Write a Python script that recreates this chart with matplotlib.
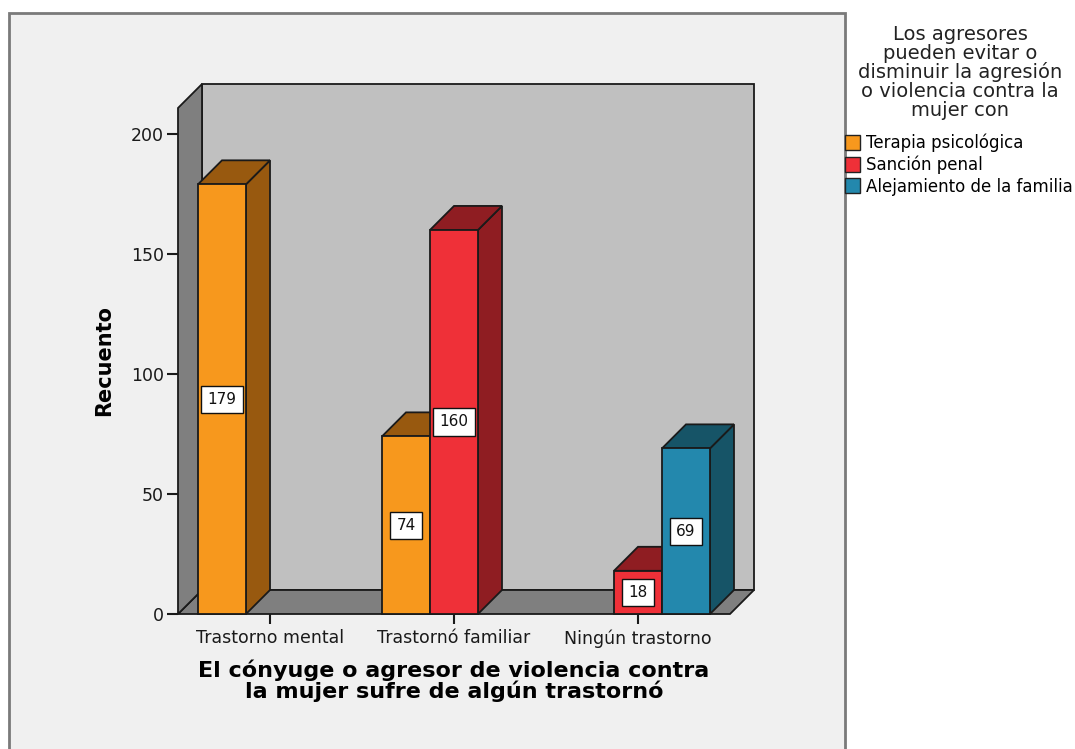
import matplotlib

matplotlib.use("Agg")

import matplotlib.pyplot as plt
from matplotlib.patches import Polygon, Rectangle

categories = ["Trastorno mental", "Trastornó familiar", "Ningún trastorno"]
series_names = ["Terapia psicológica", "Sanción penal", "Alejamiento de la familia"]
terapia = [179, 74, 0]
sancion = [0, 160, 18]
alejamiento = [0, 0, 69]
y_ticks = [0, 50, 100, 150, 200]

front_colors = ["#f7981d", "#ef3038", "#2388ad"]
shade_colors = ["#98590f", "#8f1d22", "#165467"]
legend_title = "Los agresores\npueden evitar o\ndisminuir la agresión\no violencia contra la\nmujer con"
x_title = "El cónyuge o agresor de violencia contra\nla mujer sufre de algún trastornó"

plt.rcParams["font.family"] = ["DejaVu Sans"]

W, H = 1075, 749
fig = plt.figure(figsize=(W / 100, H / 100), dpi=100, facecolor="white")
fig.add_artist(Rectangle((9 / W, -0.05), (845 - 9) / W, 1.05 - 13 / H,
                         transform=fig.transFigure, facecolor="#f0f0f0",
                         edgecolor="#7a7a7a", linewidth=2, zorder=-1))

ax = fig.add_axes([178 / W, 1 - 614 / H, (730 - 178) / W, (614 - 108) / H])
ax.set_xlim(-0.5, 2.5)
ax.set_ylim(0, 210.8)
ax.patch.set_visible(False)
for s in ax.spines.values():
    s.set_visible(False)

# 3d depth: 24 px right and up, expressed in data units
depth_px = 24
(x0p, y0p), (x1p, y1p) = ax.transData.transform([(0, 0), (1, 1)])
ddx = depth_px / (x1p - x0p)
ddy = depth_px / (y1p - y0p)

edge = dict(edgecolor="#1a1a1a", linewidth=1.3, clip_on=False)
xl, xr = ax.get_xlim()
yt = ax.get_ylim()[1]
ax.add_patch(Polygon([(xl + ddx, ddy), (xr + ddx, ddy), (xr + ddx, yt + ddy), (xl + ddx, yt + ddy)],
                     facecolor="#c0c0c0", zorder=1, **edge))
ax.add_patch(Polygon([(xl, 0), (xr, 0), (xr + ddx, ddy), (xl + ddx, ddy)],
                     facecolor="#7f7f7f", zorder=1, **edge))
ax.add_patch(Polygon([(xl, 0), (xl + ddx, ddy), (xl + ddx, yt + ddy), (xl, yt)],
                     facecolor="#7f7f7f", zorder=1, **edge))

series = [terapia, sancion, alejamiento]
w = 48 / 184
z = 2
for i in range(len(categories)):
    for j, vals in enumerate(series):
        v = vals[i]
        if v <= 0:
            continue
        x0 = i + (j - 1) * w - w / 2
        x1 = x0 + w
        ax.add_patch(Polygon([(x1, 0), (x1 + ddx, ddy), (x1 + ddx, v + ddy), (x1, v)],
                             facecolor=shade_colors[j], zorder=z, **edge))
        ax.add_patch(Polygon([(x0, v), (x1, v), (x1 + ddx, v + ddy), (x0 + ddx, v + ddy)],
                             facecolor=shade_colors[j], zorder=z, **edge))
        ax.add_patch(Rectangle((x0, 0), w, v, facecolor=front_colors[j], zorder=z + 0.5, **edge))
        ax.text((x0 + x1) / 2, v / 2, str(v), ha="center", va="center", fontsize=11,
                color="#111111", zorder=20,
                bbox=dict(boxstyle="square,pad=0.4", facecolor="white", edgecolor="#111111", linewidth=1))
        z += 1

ax.set_yticks(y_ticks)
ax.set_xticks(range(len(categories)), categories)
ax.tick_params(axis="y", length=8, width=1.5, labelsize=12.5, pad=2, colors="#1a1a1a")
ax.tick_params(axis="x", length=7, width=1.5, labelsize=12.5, pad=4, colors="#1a1a1a")

ax.set_ylabel("Recuento", fontsize=15, fontweight="bold")
ax.yaxis.set_label_coords(-0.115, 0.5)
ax.set_xlabel(x_title, fontsize=16, fontweight="bold", linespacing=0.95)
ax.xaxis.set_label_coords(0.5, -0.09)

fig.text(960 / W, 1 - 25 / H, legend_title, ha="center", va="top", fontsize=14,
         linespacing=0.98, color="#222222")
handles = [Rectangle((0, 0), 1, 1, facecolor=c, edgecolor="#222222") for c in front_colors]
fig.legend(handles, series_names, loc="upper left", bbox_to_anchor=(845 / W, 1 - 134 / H),
           frameon=False, fontsize=12, handlelength=0.9, handleheight=1.0,
           handletextpad=0.35, labelspacing=0.2, borderpad=0, borderaxespad=0)

fig.savefig("out.png", dpi=100, facecolor="white")
